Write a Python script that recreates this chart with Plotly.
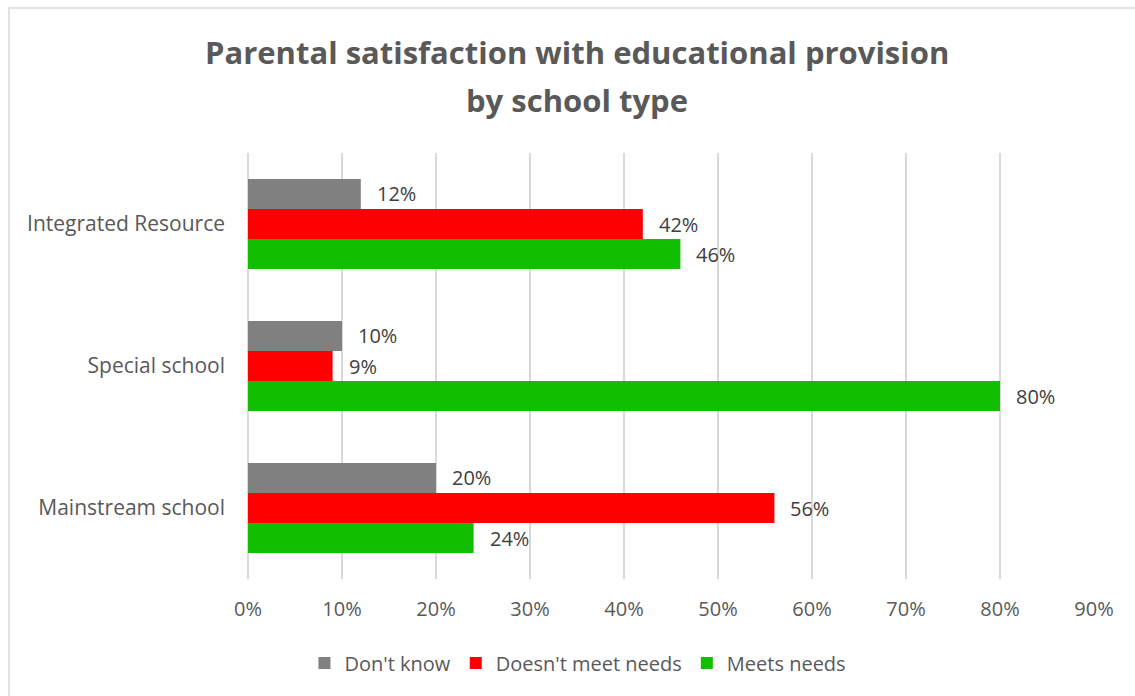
import plotly.graph_objects as go

# School types, listed bottom-to-top as they appear on the axis
school_types = ["Mainstream school", "Special school", "Integrated Resource"]

dont_know = [0.20, 0.10, 0.12]
doesnt_meet = [0.56, 0.09, 0.42]
meets_needs = [0.24, 0.80, 0.46]

tick_values = [0, 0.1, 0.2, 0.3, 0.4, 0.5, 0.6, 0.7, 0.8, 0.9]
tick_labels = ["0%", "10%", "20%", "30%", "40%", "50%", "60%", "70%", "80%", "90%"]

title_lines = ["Parental satisfaction with educational provision", "by school type"]

series = [
    ("Meets needs", meets_needs, "#12BF00"),
    ("Doesn't meet needs", doesnt_meet, "#FF0000"),
    ("Don't know", dont_know, "#808080"),
]

FONT = "Open Sans, Segoe UI, sans-serif"
W, H = 1135, 696
L, R, T, B = 248, 41, 153, 117
pw, ph = W - L - R, H - T - B
BARGAP = 0.366

fig = go.Figure()
for name, vals, color in series:
    fig.add_trace(go.Bar(
        y=school_types, x=vals, name=name, orientation="h",
        marker=dict(color=color, line=dict(width=0)),
        hoverinfo="x+name",
    ))

fig.update_layout(
    width=W, height=H,
    margin=dict(l=L, r=R, t=T, b=B),
    paper_bgcolor="white", plot_bgcolor="white",
    barmode="group", bargap=BARGAP, bargroupgap=0,
    font=dict(family=FONT, color="#595959", size=20),
    xaxis=dict(
        range=[0, 0.9], tickvals=tick_values, ticktext=tick_labels,
        showgrid=True, gridcolor="#D9D9D9", gridwidth=1.5,
        zeroline=True, zerolinecolor="#D9D9D9", zerolinewidth=1.5,
        showline=False, ticks="", ticklabelstandoff=16,
        tickfont=dict(size=20, color="#595959"),
    ),
    yaxis=dict(
        showgrid=False, zeroline=False, showline=False, ticks="",
        ticklabelstandoff=22,
        tickfont=dict(size=21, color="#595959"),
    ),
    legend=dict(
        orientation="h", traceorder="reversed",
        x=0.39, xanchor="center", y=(H - B - 663) / ph, yanchor="middle",
        font=dict(size=20, color="#595959"),
        itemwidth=30,
    ),
)

annotations = []

# Two-line bold title
for text, ypix in zip(title_lines, [52, 100]):
    annotations.append(dict(
        text=f"<b>{text}</b>", xref="paper", yref="paper",
        x=(577 - L) / pw, y=(H - B - ypix) / ph,
        xanchor="center", yanchor="middle", showarrow=False,
        font=dict(size=31, color="#595959", family=FONT),
    ))

# Value labels placed just past the end of each bar
n = len(series)
group_width = 1 - BARGAP
bar_h = group_width / n
for k, (name, vals, color) in enumerate(series):
    offset = -group_width / 2 + bar_h * (k + 0.5)
    for i, v in enumerate(vals):
        annotations.append(dict(
            x=v, y=i + offset, xref="x", yref="y",
            text=f"{round(v * 100)}%", showarrow=False,
            xanchor="left", yanchor="middle", xshift=14,
            font=dict(size=20, color="#404040", family=FONT),
        ))
fig.update_layout(annotations=annotations)

# Light chart-area border
fig.add_shape(
    type="rect", xref="paper", yref="paper",
    x0=(9 - L) / pw, x1=(W + 5 - L) / pw,
    y0=(H - B - (H + 5)) / ph, y1=(H - B - 8) / ph,
    line=dict(color="#D9D9D9", width=1.5), fillcolor="rgba(0,0,0,0)", layer="below",
)

fig.write_html("out.html")
